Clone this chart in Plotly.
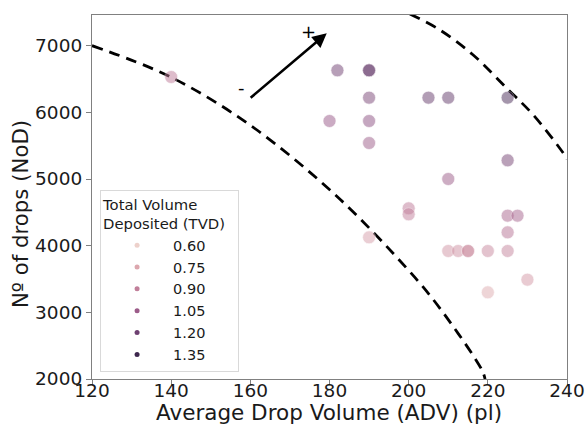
import math
import plotly.graph_objects as go

# ---- data ----
adv = [140, 182, 190, 190, 190, 180, 190, 190, 205, 210, 225, 225, 210,
       200, 200, 190, 210, 212.5, 215, 215, 220, 225, 225, 227.5, 225, 220, 230]
nod = [6530, 6630, 6630, 6630, 6220, 5870, 5870, 5540, 6220, 6220, 6220, 5280, 5000,
       4560, 4470, 4125, 3920, 3920, 3920, 3920, 3920, 3920, 4450, 4450, 4200, 3300, 3490]
tvd = [0.91, 1.19, 1.22, 1.22, 1.16, 1.06, 1.10, 1.05, 1.22, 1.23, 1.30, 1.17, 1.05,
       0.91, 0.89, 0.78, 0.82, 0.83, 0.84, 0.84, 0.86, 0.88, 1.00, 1.01, 0.95, 0.73, 0.80]

legend_levels = [0.60, 0.75, 0.90, 1.05, 1.20, 1.35]
legend_labels = ["0.60", "0.75", "0.90", "1.05", "1.20", "1.35"]

lower_curve_x = [120, 139.7, 159.9, 181.5, 199.9, 207.9, 218.5, 219.3]
lower_curve_y = [7000, 6535, 5810, 4760, 3635, 3060, 2135, 2000]
upper_curve_x = [200.3, 207.9, 216.3, 224.8, 231.5, 239.1, 240]
upper_curve_y = [7475, 7235, 6860, 6360, 5960, 5385, 5300]

arrow_tail = (159.7, 6200)
arrow_head = (179.3, 7185)

x_ticks = [120, 140, 160, 180, 200, 220, 240]
y_ticks = [2000, 3000, 4000, 5000, 6000, 7000]

x_title = "Average Drop Volume (ADV) (pl)"
y_title = "Nº of drops (NoD)"

# ---- seaborn-like cubehelix colormap ----
def cubehelix(x, start=0.0, rot=0.4, gamma=1.0, hue=0.8):
    xg = x ** gamma
    a = hue * xg * (1 - xg) / 2
    phi = 2 * math.pi * (start / 3 + rot * x)
    r = xg + a * (-0.14861 * math.cos(phi) + 1.78277 * math.sin(phi))
    g = xg + a * (-0.29227 * math.cos(phi) - 0.90649 * math.sin(phi))
    b = xg + a * (1.97294 * math.cos(phi))
    c = [min(1, max(0, v)) for v in (r, g, b)]
    return "rgb(%d,%d,%d)" % tuple(round(v * 255) for v in c)

LIGHT, DARK = 0.85, 0.15
CMIN, CMAX = 0.6, 1.4
colorscale = [[i / 20, cubehelix(LIGHT + (DARK - LIGHT) * i / 20)] for i in range(21)]

def color_for(v):
    t = (v - CMIN) / (CMAX - CMIN)
    t = min(1, max(0, t))
    return cubehelix(LIGHT + (DARK - LIGHT) * t)

FONT = "DejaVu Sans"
TXT = "#1a1a1a"
fig = go.Figure()

dash_line = dict(color="black", width=2.8, dash="11px,7px")
fig.add_trace(go.Scatter(x=lower_curve_x, y=lower_curve_y, mode="lines",
                         line=dict(shape="spline", **dash_line), showlegend=False,
                         hoverinfo="skip"))
fig.add_trace(go.Scatter(x=upper_curve_x, y=upper_curve_y, mode="lines",
                         line=dict(shape="spline", **dash_line), showlegend=False,
                         hoverinfo="skip"))

fig.add_trace(go.Scatter(
    x=adv, y=nod, mode="markers", showlegend=False,
    marker=dict(size=13, color=tvd, colorscale=colorscale, cmin=CMIN, cmax=CMAX,
                opacity=0.5, line=dict(width=0.6, color="white")),
))

for lv, lab in zip(legend_levels, legend_labels):
    fig.add_trace(go.Scatter(x=[None], y=[None], mode="markers", name=lab,
                             marker=dict(size=5, color=color_for(lv))))

fig.add_annotation(x=arrow_head[0], y=arrow_head[1], ax=arrow_tail[0], ay=arrow_tail[1],
                   xref="x", yref="y", axref="x", ayref="y", text="",
                   showarrow=True, arrowhead=2, arrowsize=1.1, arrowwidth=2.6,
                   arrowcolor="black")
fig.add_annotation(x=174.7, y=7210, text="+", showarrow=False,
                   font=dict(family=FONT, size=18, color="black"))
fig.add_annotation(x=157.8, y=6380, text="-", showarrow=False,
                   font=dict(family=FONT, size=18, color="black"))

# axis titles as annotations (for exact placement)
fig.add_annotation(text=x_title, xref="paper", yref="paper", x=0.499, y=-0.0925,
                   xanchor="center", yanchor="middle", showarrow=False,
                   font=dict(family=FONT, size=21.5, color=TXT))
fig.add_annotation(text=y_title, xref="paper", yref="paper", x=-0.1516, y=0.453,
                   xanchor="center", yanchor="middle", showarrow=False, textangle=-90,
                   font=dict(family=FONT, size=21.3, color=TXT))

axis_common = dict(showgrid=False, zeroline=False, showline=True, linecolor="#808080",
                   linewidth=1.2, mirror=True, ticks="outside", ticklen=5,
                   tickcolor="#808080", tickwidth=1, automargin=False,
                   tickfont=dict(family=FONT, size=18.5, color=TXT))

fig.update_layout(
    width=585, height=425,
    margin=dict(l=92, r=18, t=15, b=46),
    plot_bgcolor="white", paper_bgcolor="white",
    font=dict(family=FONT, color=TXT),
    xaxis=dict(range=[120, 240], tickvals=x_ticks, ticktext=[str(v) for v in x_ticks],
               ticklabelstandoff=-10, **axis_common),
    yaxis=dict(range=[2000, 7460], tickvals=y_ticks, ticktext=[str(v) for v in y_ticks],
               **axis_common),
    legend=dict(x=0.017, y=0.52, xanchor="left", yanchor="top",
                bgcolor="rgba(255,255,255,0.8)", bordercolor="#d9d9d9", borderwidth=1,
                font=dict(family=FONT, size=14.5, color=TXT),
                title=dict(text="Total Volume<br>Deposited (TVD)&nbsp;&nbsp;",
                           font=dict(family=FONT, size=14.8, color=TXT), side="top"),
                itemwidth=62, tracegroupgap=0),
)

fig.write_html("out.html", config={"displayModeBar": False},
               post_script="document.body.style.margin='0';")
